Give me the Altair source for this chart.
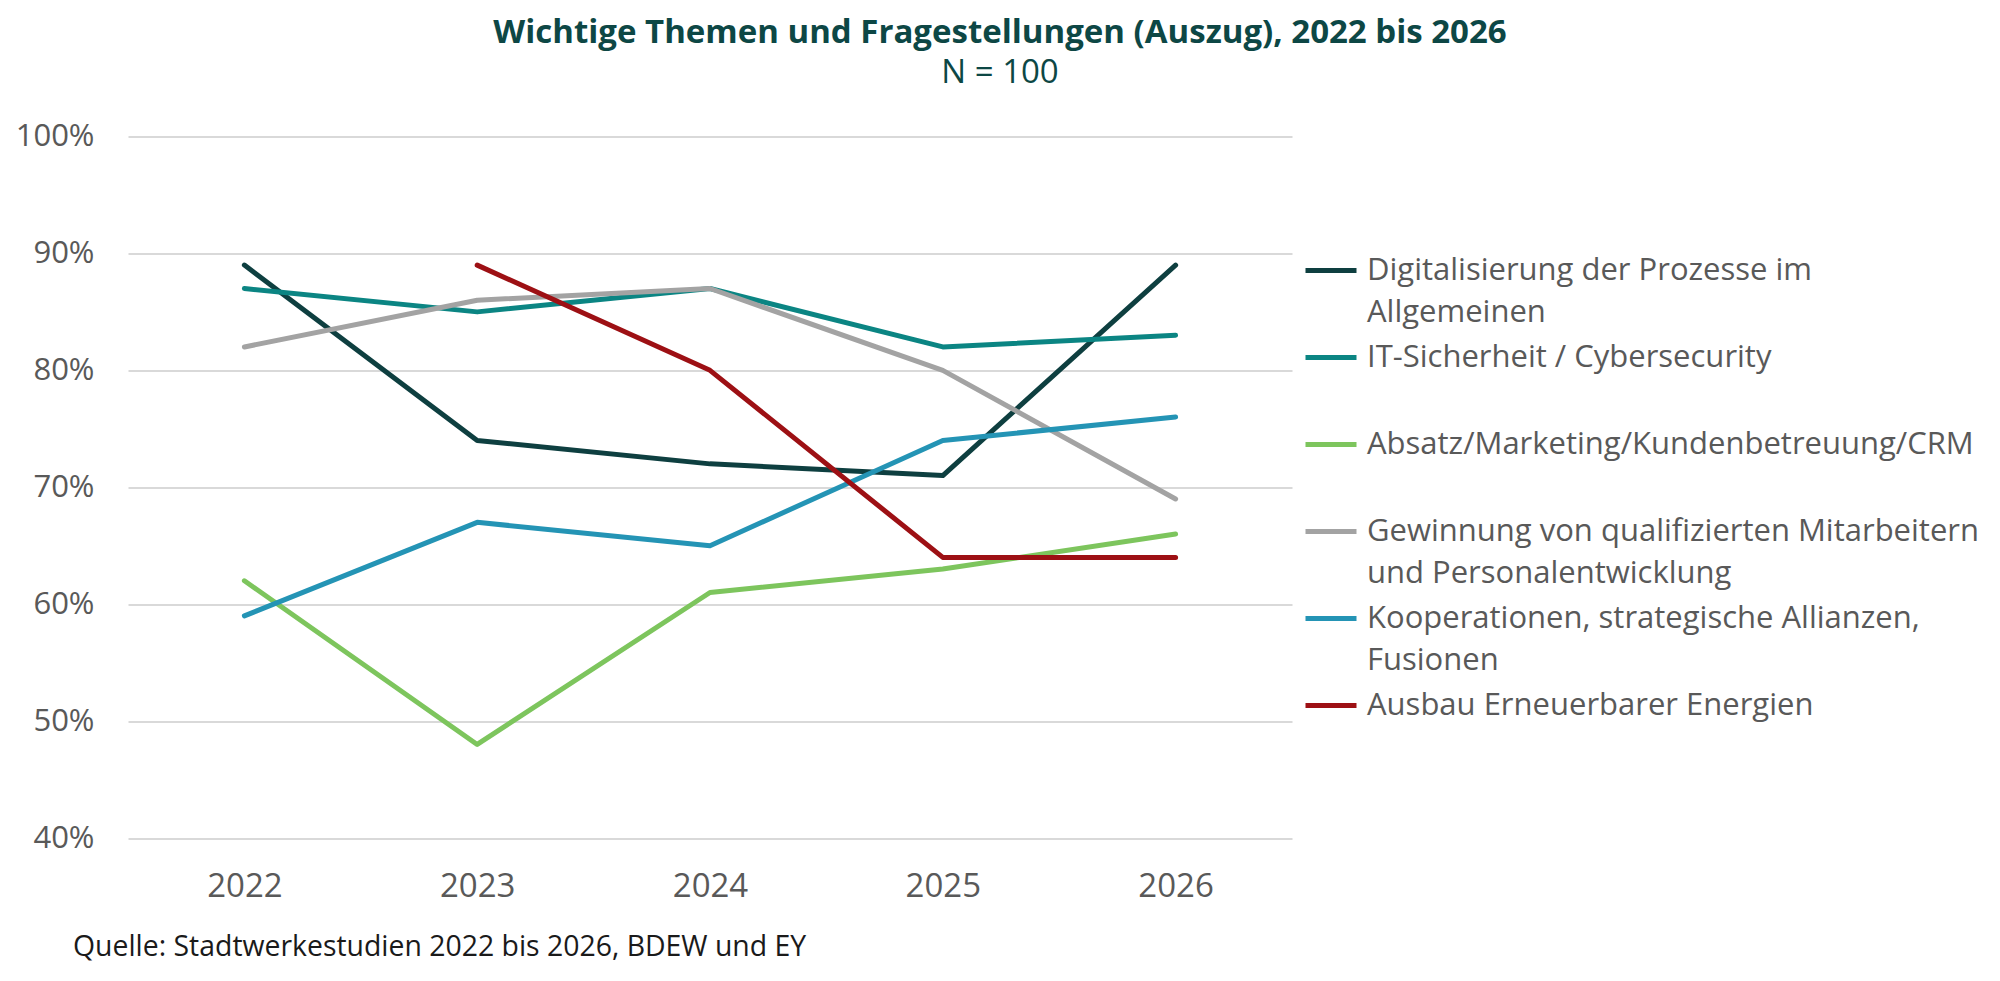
import json
import altair as alt
import pandas as pd

YEARS = ["2022", "2023", "2024", "2025", "2026"]
SERIES = [
    "Digitalisierung der Prozesse im Allgemeinen",
    "IT-Sicherheit / Cybersecurity",
    "Absatz/Marketing/Kundenbetreuung/CRM",
    "Gewinnung von qualifizierten Mitarbeitern und Personalentwicklung",
    "Kooperationen, strategische Allianzen, Fusionen",
    "Ausbau Erneuerbarer Energien",
]
LEGEND_LINES = [
    ["Digitalisierung der Prozesse im", "Allgemeinen"],
    ["IT-Sicherheit / Cybersecurity", ""],
    ["Absatz/Marketing/Kundenbetreuung/CRM", ""],
    ["Gewinnung von qualifizierten Mitarbeitern", "und Personalentwicklung"],
    ["Kooperationen, strategische Allianzen,", "Fusionen"],
    ["Ausbau Erneuerbarer Energien", ""],
]
COLORS = ["#0e3f40", "#0b8583", "#7dc55d", "#a3a3a3", "#2494b5", "#9d1014"]

DIGITAL = [89, 74, 72, 71, 89]
IT_SEC = [87, 85, 87, 82, 83]
ABSATZ = [62, 48, 61, 63, 66]
GEWINNUNG = [82, 86, 87, 80, 69]
KOOP = [59, 67, 65, 74, 76]
AUSBAU = [None, 89, 80, 64, 64]

Y_TICKS = [0.4, 0.5, 0.6, 0.7, 0.8, 0.9, 1.0]
TITLE = "Wichtige Themen und Fragestellungen (Auszug), 2022 bis 2026"
SUBTITLE = "N = 100"
SOURCE = "Quelle: Stadtwerkestudien 2022 bis 2026, BDEW und EY"

rows = []
for name, vals in zip(SERIES, [DIGITAL, IT_SEC, ABSATZ, GEWINNUNG, KOOP, AUSBAU]):
    for year, v in zip(YEARS, vals):
        if v is not None:
            rows.append({"Jahr": year, "Thema": name, "Wert": v / 100})
df = pd.DataFrame(rows)

label_map = json.dumps({s: l for s, l in zip(SERIES, LEGEND_LINES)}, ensure_ascii=False)

FONT = "Open Sans"
GREY = "#595959"

lines = alt.Chart(df).mark_line(strokeWidth=5, strokeCap="round", strokeJoin="round").encode(
    x=alt.X("Jahr:O", sort=YEARS, scale=alt.Scale(type="point", padding=0.5),
            axis=alt.Axis(title=None, labelAngle=0, labelFontSize=33, labelColor=GREY,
                          labelFont=FONT, domain=False, ticks=False, tickSize=0,
                          grid=False, labelPadding=32)),
    y=alt.Y("Wert:Q", scale=alt.Scale(domain=[0.4, 1.0], nice=False, zero=False),
            axis=alt.Axis(title=None, values=Y_TICKS, format=".0%", labelFontSize=31,
                          labelColor=GREY, labelFont=FONT, domain=False, ticks=False,
                          tickSize=0, labelPadding=34, grid=True, gridColor="#d9d9d9",
                          gridWidth=2)),
    color=alt.Color("Thema:N", sort=SERIES,
                    scale=alt.Scale(domain=SERIES, range=COLORS),
                    legend=alt.Legend(title=None, orient="none", legendX=1175, legendY=106,
                                      symbolType="stroke", symbolSize=2601,
                                      symbolStrokeWidth=5, labelFontSize=31,
                                      labelFont=FONT, labelColor=GREY, labelLimit=1500,
                                      labelOffset=8, labelBaseline="middle",
                                      labelExpr=label_map + "[datum.label]",
                                      rowPadding=2, padding=0)),
    order=alt.Order("Jahr:O"),
)

source = alt.Chart(pd.DataFrame({"t": [SOURCE]})).mark_text(
    align="left", baseline="alphabetic", font=FONT, fontSize=28.4, color="#1a1a1a"
).encode(x=alt.value(-55), y=alt.value(819.5), text="t:N")

chart = alt.layer(lines, source).properties(
    width=1164,
    height=701.5,
    padding={"left": 120, "top": 128.5, "right": 700, "bottom": 135},
    autosize=alt.AutoSizeParams(type="none"),
    title=alt.TitleParams(text=TITLE, subtitle=SUBTITLE, anchor="middle", frame="group",
                          dx=290, offset=31, font=FONT, fontSize=33, fontWeight="bold",
                          color="#0d4745", subtitleFont=FONT, subtitleFontSize=33,
                          subtitleColor="#0d4745", subtitlePadding=6.5),
).configure(
    style={"guide-label": {"lineHeight": 42}},
    view=alt.ViewConfig(stroke=None),
)

chart.save("out.html", embed_options={"renderer": "svg", "actions": False})
